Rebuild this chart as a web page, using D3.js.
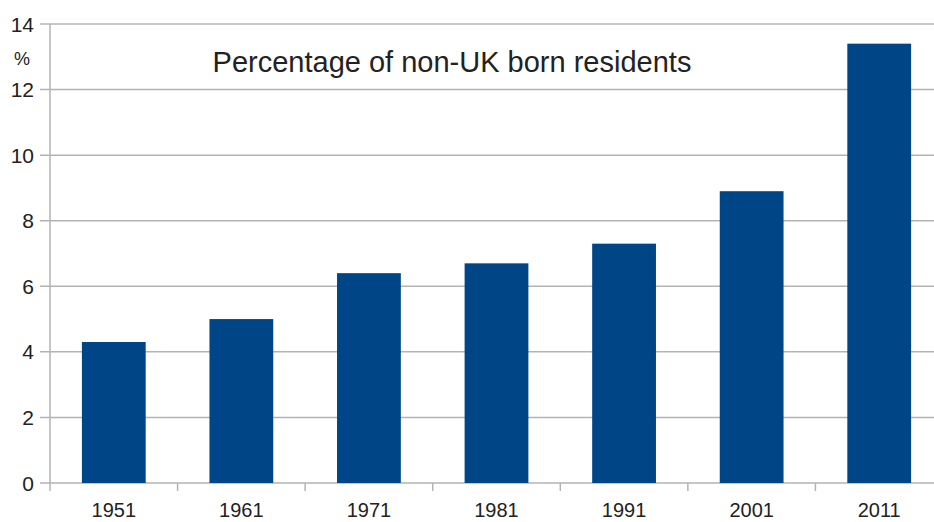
<!DOCTYPE html>
<html>
<head>
<meta charset="utf-8">
<script src="https://cdn.jsdelivr.net/npm/d3@7"></script>
<style>
  html, body { margin: 0; padding: 0; background: #fff; }
  svg { display: block; font-family: "Liberation Sans", Arial, sans-serif; }
</style>
</head>
<body>
<svg id="chart" width="934" height="522"></svg>
<script>
// census years and share of residents born outside the UK (%)
const years = ["1951", "1961", "1971", "1981", "1991", "2001", "2011"];
const percent = [4.3, 5.0, 6.4, 6.7, 7.3, 8.9, 13.4];
const yTicks = [0, 2, 4, 6, 8, 10, 12, 14];
const title = "Percentage of non-UK born residents";

const data = years.map((y, i) => ({year: y, value: percent[i]}));

var svg = d3.select("#chart");
const plotLeft = 50, plotRight = 943, plotTop = 24, plotBottom = 483;

const x = d3.scaleBand().domain(years).range([plotLeft, plotRight]).paddingInner(0.5).paddingOuter(0.25);
const y = d3.scaleLinear().domain([0, 14]).range([plotBottom, plotTop]);

// horizontal gridlines (with small ticks left of the axis)
svg.append("g")
    .selectAll("line")
    .data(yTicks)
    .enter().append("line")
    .attr("x1", plotLeft - 10)
    .attr("x2", plotRight)
    .attr("y1", d => y(d))
    .attr("y2", d => y(d))
    .attr("stroke", "#b3b3b3")
    .attr("stroke-width", 1.5);

// y labels
svg.append("g")
    .selectAll("text")
    .data(yTicks)
    .enter().append("text")
    .attr("x", 34)
    .attr("y", d => y(d))
    .attr("dy", "0.36em")
    .attr("text-anchor", "end")
    .attr("font-size", 21)
    .attr("fill", "#222")
    .text(d => d);

svg.append("text")
    .attr("x", 22)
    .attr("y", 65)
    .attr("text-anchor", "middle")
    .attr("font-size", 18)
    .attr("fill", "#222")
    .text("%");

// bars
svg.append("g")
    .selectAll("rect")
    .data(data)
    .enter().append("rect")
    .attr("x", d => x(d.year))
    .attr("width", x.bandwidth())
    .attr("y", d => y(d.value))
    .attr("height", d => y(0) - y(d.value))
    .attr("fill", "#004586");

// vertical axis line
svg.append("line")
    .attr("x1", plotLeft).attr("x2", plotLeft)
    .attr("y1", plotTop).attr("y2", plotBottom + 8)
    .attr("stroke", "#b3b3b3")
    .attr("stroke-width", 1.5);

// category boundary ticks below the axis
const step = x.step();
svg.append("g")
    .selectAll("line")
    .data(years.slice(1))
    .enter().append("line")
    .attr("x1", d => x(d) - step * 0.25)
    .attr("x2", d => x(d) - step * 0.25)
    .attr("y1", plotBottom)
    .attr("y2", plotBottom + 8)
    .attr("stroke", "#b3b3b3")
    .attr("stroke-width", 1.5);

// x labels
svg.append("g")
    .selectAll("text")
    .data(years)
    .enter().append("text")
    .attr("x", d => x(d) + x.bandwidth() / 2)
    .attr("y", 517)
    .attr("text-anchor", "middle")
    .attr("font-size", 20)
    .attr("fill", "#222")
    .text(d => d);

// title
svg.append("text")
    .attr("x", 452)
    .attr("y", 72)
    .attr("text-anchor", "middle")
    .attr("font-size", 29)
    .attr("fill", "#222")
    .text(title);
</script>
</body>
</html>
